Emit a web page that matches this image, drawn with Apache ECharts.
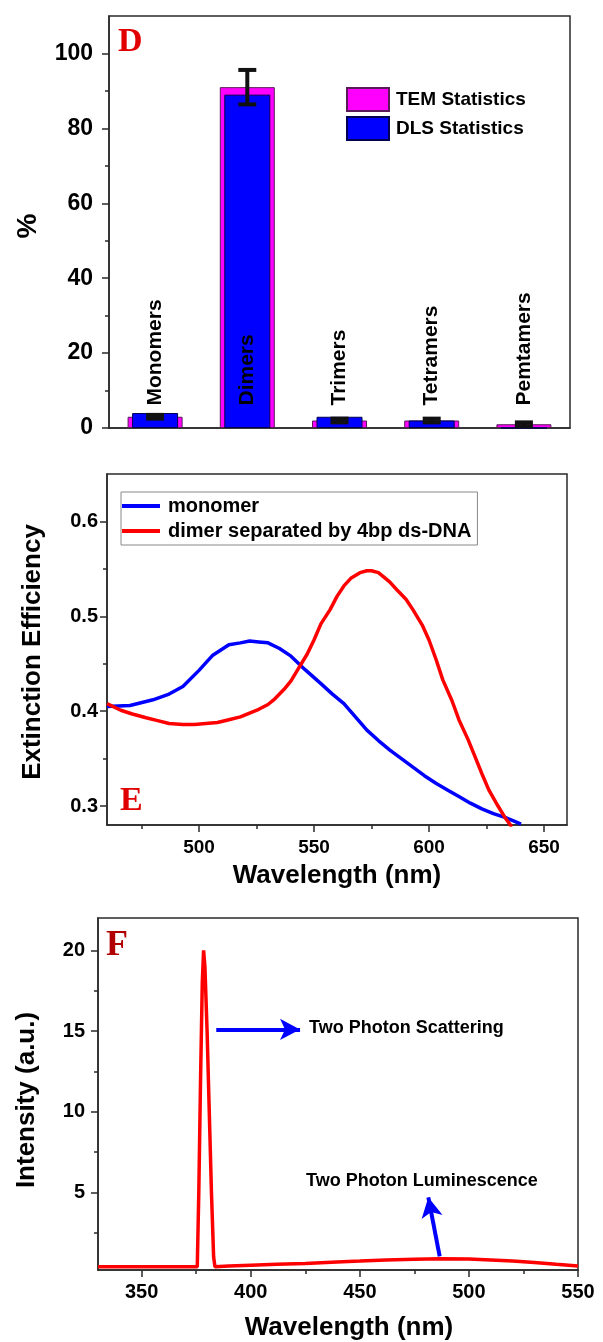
<!DOCTYPE html>
<html>
<head>
<meta charset="utf-8">
<script src="https://cdn.jsdelivr.net/npm/echarts@6/dist/echarts.min.js"></script>
<style>
  html, body { margin: 0; padding: 0; background: #fff; }
  #chart { width: 603px; height: 1342px; }
</style>
</head>
<body>
<div id="chart"></div>
<script>
// panel D - size distribution
const dCategories = ['Monomers', 'Dimers', 'Trimers', 'Tetramers', 'Pemtamers'];
const temValues = [3, 91, 2, 2, 1];
const dlsValues = [4, 89, 3, 2, 0];
const temErrors = [0.5, 4.6, 0.5, 0.5, 0.5];
const dYTicks = [0, 20, 40, 60, 80, 100];
const dYMinor = [10, 30, 50, 70, 90];

// panel E - extinction spectra
const monoX = [460, 470, 480, 487, 493, 500, 506, 513, 518, 522, 526, 530, 535, 540, 546, 553, 558, 563, 568, 573, 578, 583, 588, 593, 598, 603, 608, 613, 618, 623, 628, 633, 637, 640];
const monoY = [0.405, 0.406, 0.412, 0.418, 0.426, 0.443, 0.459, 0.470, 0.472, 0.474, 0.473, 0.472, 0.466, 0.458, 0.444, 0.429, 0.418, 0.408, 0.394, 0.380, 0.369, 0.359, 0.350, 0.341, 0.332, 0.324, 0.317, 0.310, 0.303, 0.297, 0.292, 0.288, 0.284, 0.281];
const dimerX = [460, 466, 471, 477, 482, 487, 493, 498, 503, 508, 513, 518, 522, 526, 530, 533, 537, 540, 543, 547, 550, 553, 557, 560, 563, 566, 570, 573, 575, 578, 580, 583, 586, 590, 593, 597, 600, 603, 606, 610, 613, 617, 620, 623, 626, 630, 633, 636];
const dimerY = [0.408, 0.401, 0.397, 0.393, 0.390, 0.387, 0.386, 0.386, 0.387, 0.388, 0.391, 0.394, 0.398, 0.402, 0.407, 0.413, 0.423, 0.432, 0.444, 0.460, 0.475, 0.492, 0.507, 0.521, 0.532, 0.540, 0.546, 0.548, 0.548, 0.546, 0.542, 0.536, 0.528, 0.518, 0.507, 0.491, 0.475, 0.455, 0.433, 0.411, 0.391, 0.370, 0.352, 0.334, 0.317, 0.300, 0.288, 0.278];
const eXTicks = [500, 550, 600, 650];
const eXMinor = [475, 525, 575, 625];
const eYTicks = [0.3, 0.4, 0.5, 0.6];
const eYMinor = [0.35, 0.45, 0.55];

// panel F - two photon spectrum
const fX = [330, 350, 370, 375.5, 376.2, 377.0, 377.8, 378.4, 379.0, 380.0, 381.0, 382.0, 383.0, 383.6, 390, 400, 412, 425, 437, 450, 462, 475, 487, 500, 510, 520, 530, 540, 550];
const fY = [0.4, 0.4, 0.4, 0.4, 5, 12, 18, 20, 19, 15, 10, 5, 1, 0.4, 0.45, 0.5, 0.55, 0.6, 0.68, 0.75, 0.82, 0.86, 0.9, 0.88, 0.82, 0.75, 0.66, 0.55, 0.45];
const fXTicks = [350, 400, 450, 500, 550];
const fXMinor = [375, 425, 475, 525];
const fYTicks = [5, 10, 15, 20];
const fYMinor = [2.5, 7.5, 12.5, 17.5];

const zip = (xs, ys) => xs.map((x, i) => [x, ys[i]]);

const chart = echarts.init(document.getElementById('chart'));

const axisColor = '#2a2a2a';
const sans = "'Liberation Sans', Arial, sans-serif";

function mainValueAxis(gridIndex, position, min, max, ticks, fontSize, margin, fmt) {
  return {
    type: 'value', gridIndex, position, min, max,
    axisLine: { show: true, lineStyle: { color: axisColor, width: 1.5 } },
    axisTick: { show: true, inside: false, length: 7, customValues: ticks, lineStyle: { color: axisColor, width: 1.5 } },
    axisLabel: { show: true, customValues: ticks, margin, color: '#000', fontSize, fontWeight: 'bold', fontFamily: sans, formatter: fmt },
    splitLine: { show: false }
  };
}
function minorAxis(gridIndex, position, min, max, ticks) {
  return {
    type: 'value', gridIndex, position, min, max,
    axisLine: { show: false },
    axisTick: { show: true, inside: false, length: 4, customValues: ticks, lineStyle: { color: axisColor, width: 1.5 } },
    axisLabel: { show: false },
    splitLine: { show: false }
  };
}

const option = {
  animation: false,
  backgroundColor: '#fff',
  grid: [
    { left: 109, top: 16, width: 461, height: 412, show: true, borderColor: axisColor, borderWidth: 1.5 },
    { left: 107, top: 474, width: 460, height: 351, show: true, borderColor: axisColor, borderWidth: 1.5 },
    { left: 98, top: 918, width: 480, height: 352, show: true, borderColor: axisColor, borderWidth: 1.5 }
  ],
  legend: [
    {
      data: ['TEM Statistics', 'DLS Statistics'],
      orient: 'vertical', left: 346, top: 87, itemWidth: 42, itemHeight: 23, itemGap: 4,
      icon: 'rect', padding: 0,
      textStyle: { fontSize: 19, fontWeight: 'bold', fontFamily: sans, color: '#000', padding: [0, 0, 0, 2] }
    },
    {
      data: ['monomer', 'dimer separated by 4bp ds-DNA'],
      orient: 'vertical', left: 121, top: 492, itemWidth: 38, itemHeight: 4, itemGap: 5,
      icon: 'rect', padding: [4, 6, 4, 1],
      borderColor: '#888', borderWidth: 1,
      textStyle: { fontSize: 20, fontWeight: 'bold', fontFamily: sans, color: '#000', padding: [0, 0, 0, 3] }
    }
  ],
  xAxis: [
    { type: 'category', gridIndex: 0, position: 'bottom', data: dCategories, axisLine: { show: true, lineStyle: { color: axisColor, width: 1.5 } }, axisTick: { show: false }, axisLabel: { show: false } },
    { type: 'category', gridIndex: 0, position: 'bottom', data: dCategories, show: false },
    mainValueAxis(1, 'bottom', 460, 660, eXTicks, 19, 13),
    minorAxis(1, 'bottom', 460, 660, eXMinor),
    mainValueAxis(2, 'bottom', 330, 550, fXTicks, 20, 12),
    minorAxis(2, 'bottom', 330, 550, fXMinor)
  ],
  yAxis: [
    mainValueAxis(0, 'left', 0, 110, dYTicks, 23, 16),
    minorAxis(0, 'left', 0, 110, dYMinor),
    mainValueAxis(1, 'left', 0.28, 0.65, eYTicks, 20, 9, v => v.toFixed(1)),
    minorAxis(1, 'left', 0.28, 0.65, eYMinor),
    mainValueAxis(2, 'left', 0.2, 22, fYTicks, 20, 13),
    minorAxis(2, 'left', 0.2, 22, fYMinor)
  ],
  series: [
    {
      name: 'TEM Statistics', type: 'bar', xAxisIndex: 0, yAxisIndex: 0,
      barWidth: 55, data: temValues, z: 2,
      itemStyle: { color: '#ff00ff', borderColor: '#5a1a5a', borderWidth: 1 }
    },
    {
      name: 'DLS Statistics', type: 'bar', xAxisIndex: 1, yAxisIndex: 0,
      barWidth: 46, data: dlsValues, z: 3,
      itemStyle: { color: '#0000ff', borderColor: '#000050', borderWidth: 1 }
    },
    {
      type: 'custom', xAxisIndex: 0, yAxisIndex: 0, z: 5,
      data: temValues.map((v, i) => [i, v - temErrors[i], v + temErrors[i]]),
      renderItem: (params, api) => {
        const i = api.value(0);
        const lo = api.coord([i, api.value(1)]);
        const hi = api.coord([i, api.value(2)]);
        const hw = 9;
        const st = { stroke: '#111', lineWidth: 4 };
        return {
          type: 'group',
          children: [
            { type: 'line', shape: { x1: lo[0], y1: lo[1], x2: hi[0], y2: hi[1] }, style: st },
            { type: 'line', shape: { x1: lo[0] - hw, y1: lo[1], x2: lo[0] + hw, y2: lo[1] }, style: st },
            { type: 'line', shape: { x1: hi[0] - hw, y1: hi[1], x2: hi[0] + hw, y2: hi[1] }, style: st }
          ]
        };
      }
    },
    {
      type: 'custom', xAxisIndex: 0, yAxisIndex: 0, z: 6, silent: true,
      data: dCategories.map((c, i) => [i]),
      renderItem: (params, api) => {
        const p = api.coord([api.value(0), 6]);
        return {
          type: 'text', x: p[0], y: p[1], rotation: Math.PI / 2,
          style: {
            text: dCategories[params.dataIndex], fill: '#000',
            fontSize: 21, fontWeight: 'bold', fontFamily: sans,
            align: 'left', verticalAlign: 'middle'
          }
        };
      }
    },
    {
      name: 'monomer', type: 'line', xAxisIndex: 2, yAxisIndex: 2,
      data: zip(monoX, monoY), showSymbol: false, clip: true,
      lineStyle: { color: '#0000ff', width: 3.5 }, itemStyle: { color: '#0000ff' }
    },
    {
      name: 'dimer separated by 4bp ds-DNA', type: 'line', xAxisIndex: 2, yAxisIndex: 2,
      data: zip(dimerX, dimerY), showSymbol: false, clip: true,
      lineStyle: { color: '#ff0000', width: 3.5 }, itemStyle: { color: '#ff0000' }
    },
    {
      name: 'spectrum', type: 'line', xAxisIndex: 4, yAxisIndex: 4,
      data: zip(fX, fY), showSymbol: false, clip: true,
      lineStyle: { color: '#ff0000', width: 3.5 }, itemStyle: { color: '#ff0000' },
      markLine: {
        silent: true, symbol: ['none', 'arrow'], symbolSize: [16, 20],
        label: { show: false },
        lineStyle: { color: '#0000ff', width: 4, type: 'solid' },
        data: [
          [{ coord: [384.2, 15.1] }, { coord: [422.6, 15.1] }],
          [{ coord: [486.6, 1.05] }, { coord: [481.4, 4.7] }]
        ]
      }
    }
  ],
  graphic: [
    { type: 'text', x: 118, y: 42, style: { text: 'D', fill: '#e00000', fontSize: 34, fontWeight: 'bold', fontFamily: "'Liberation Serif', serif", align: 'left', verticalAlign: 'middle' } },
    { type: 'text', x: 120, y: 801, style: { text: 'E', fill: '#e00000', fontSize: 34, fontWeight: 'bold', fontFamily: "'Liberation Serif', serif", align: 'left', verticalAlign: 'middle' } },
    { type: 'text', x: 106, y: 946, style: { text: 'F', fill: '#b00000', fontSize: 36, fontWeight: 'bold', fontFamily: "'Liberation Serif', serif", align: 'left', verticalAlign: 'middle' } },
    { type: 'text', x: 28, y: 226, rotation: Math.PI / 2, style: { text: '%', fill: '#000', fontSize: 28, fontWeight: 'bold', fontFamily: sans, align: 'center', verticalAlign: 'middle' } },
    { type: 'text', x: 33, y: 652, rotation: Math.PI / 2, style: { text: 'Extinction Efficiency', fill: '#000', fontSize: 26, fontWeight: 'bold', fontFamily: sans, align: 'center', verticalAlign: 'middle' } },
    { type: 'text', x: 337, y: 876, style: { text: 'Wavelength (nm)', fill: '#000', fontSize: 26, fontWeight: 'bold', fontFamily: sans, align: 'center', verticalAlign: 'middle' } },
    { type: 'text', x: 27, y: 1100, rotation: Math.PI / 2, style: { text: 'Intensity (a.u.)', fill: '#000', fontSize: 26, fontWeight: 'bold', fontFamily: sans, align: 'center', verticalAlign: 'middle' } },
    { type: 'text', x: 349, y: 1328, style: { text: 'Wavelength (nm)', fill: '#000', fontSize: 26, fontWeight: 'bold', fontFamily: sans, align: 'center', verticalAlign: 'middle' } },
    { type: 'text', x: 309, y: 1028, style: { text: 'Two Photon Scattering', fill: '#000', fontSize: 18, fontWeight: 'bold', fontFamily: sans, align: 'left', verticalAlign: 'middle' } },
    { type: 'text', x: 306, y: 1181, style: { text: 'Two Photon Luminescence', fill: '#000', fontSize: 18, fontWeight: 'bold', fontFamily: sans, align: 'left', verticalAlign: 'middle' } }
  ]
};

chart.setOption(option);
</script>
</body>
</html>
